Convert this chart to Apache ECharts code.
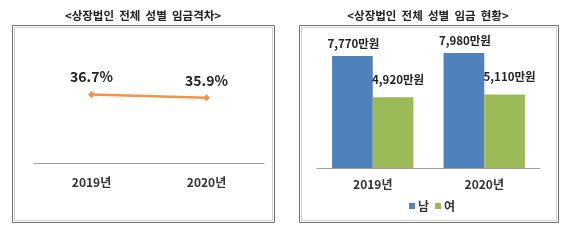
<!DOCTYPE html>
<html><head><meta charset="utf-8">
<script src="https://cdn.jsdelivr.net/npm/echarts@6/dist/echarts.min.js"></script>
<style>html,body{margin:0;padding:0;background:#fff}#c{width:570px;height:240px}</style>
</head><body><div id="c"></div>
<script>
const years = ['2019년', '2020년'];
const gapValues = [36.7, 35.9];
const maleWage = [7770, 7980];
const femaleWage = [4920, 5110];
const seriesNames = ['남', '여'];
const titles = ['<상장법인  전체  성별  임금격차>', '<상장법인  전체  성별  임금  현황>'];

const FF = "'Noto Sans CJK KR', 'Noto Sans', sans-serif";
const fmtWon = v => v.toString().replace(/\B(?=(\d{3})+(?!\d))/g, ',') + '만원';

const chart = echarts.init(document.getElementById('c'), null, {renderer: 'canvas'});
function frame(x, y, w, h) {
  return [
    {type: 'rect', shape: {x: x + 0.5, y: y + 0.5, width: w, height: h}, style: {fill: 'none', stroke: '#6f6f6f', lineWidth: 1}, z: 0},
    {type: 'rect', shape: {x: x + 2.5, y: y + 2.5, width: w - 4, height: h - 4}, style: {fill: 'none', stroke: '#d0d0d0', lineWidth: 1}, z: 0}
  ];
}
chart.setOption({
  animation: false,
  backgroundColor: '#fff',
  graphic: [
    ...frame(12, 25, 262, 197),
    ...frame(299, 25, 259, 197),
    {type: 'text', x: 143, y: 16, style: {text: titles[0], font: "bold 11.5px " + FF, fill: '#222', textAlign: 'center', textVerticalAlign: 'middle'}},
    {type: 'text', x: 428, y: 16, style: {text: titles[1], font: "bold 11.5px " + FF, fill: '#222', textAlign: 'center', textVerticalAlign: 'middle'}}
  ],
  legend: {
    data: seriesNames, left: 404, top: 195, icon: 'rect', itemWidth: 6, itemHeight: 6, itemGap: 6,
    textStyle: {fontFamily: FF, fontWeight: 'bold', fontSize: 12, color: '#333', padding: [0, 0, 0, -2]}
  },
  grid: [
    {left: 34, right: 306, top: 81, bottom: 77},
    {left: 317, right: 30, top: 38.4, bottom: 72}
  ],
  xAxis: [
    {type: 'category', gridIndex: 0, data: years, axisTick: {show: false},
      axisLine: {lineStyle: {color: '#a0a0a0', width: 1}},
      axisLabel: {margin: 13, fontFamily: FF, fontWeight: 'bold', fontSize: 12, color: '#333'}},
    {type: 'category', gridIndex: 1, data: years, axisTick: {show: false},
      axisLine: {lineStyle: {color: '#a0a0a0', width: 1}},
      axisLabel: {margin: 10, fontFamily: FF, fontWeight: 'bold', fontSize: 12, color: '#333'}}
  ],
  yAxis: [
    {type: 'value', gridIndex: 0, min: 20, max: 40, show: false, splitLine: {show: false}},
    {type: 'value', gridIndex: 1, min: 0, max: 9000, show: false, splitLine: {show: false}}
  ],
  series: [
    {type: 'line', xAxisIndex: 0, yAxisIndex: 0, data: gapValues,
      symbol: 'diamond', symbolSize: 7, lineStyle: {color: '#F0944A', width: 2.5},
      itemStyle: {color: '#F0944A'},
      label: {show: true, position: 'top', distance: 7, formatter: p => p.value + '%',
        fontFamily: FF, fontWeight: 'bold', fontSize: 14, color: '#222'}},
    {type: 'bar', name: seriesNames[0], xAxisIndex: 1, yAxisIndex: 1, data: maleWage,
      barGap: '0%', barCategoryGap: '27%', itemStyle: {color: '#4F81BD'},
      label: {show: true, position: 'top', distance: 7, offset: [1, 0], formatter: p => fmtWon(p.value),
        fontFamily: FF, fontWeight: 'bold', fontSize: 11.5, color: '#222'}},
    {type: 'bar', name: seriesNames[1], xAxisIndex: 1, yAxisIndex: 1, data: femaleWage,
      barGap: '0%', barCategoryGap: '27%', itemStyle: {color: '#9BBB59'},
      label: {show: true, position: 'top', distance: 12, offset: [5, 0], formatter: p => fmtWon(p.value),
        fontFamily: FF, fontWeight: 'bold', fontSize: 11.5, color: '#222'}}
  ]
});
</script></body></html>
